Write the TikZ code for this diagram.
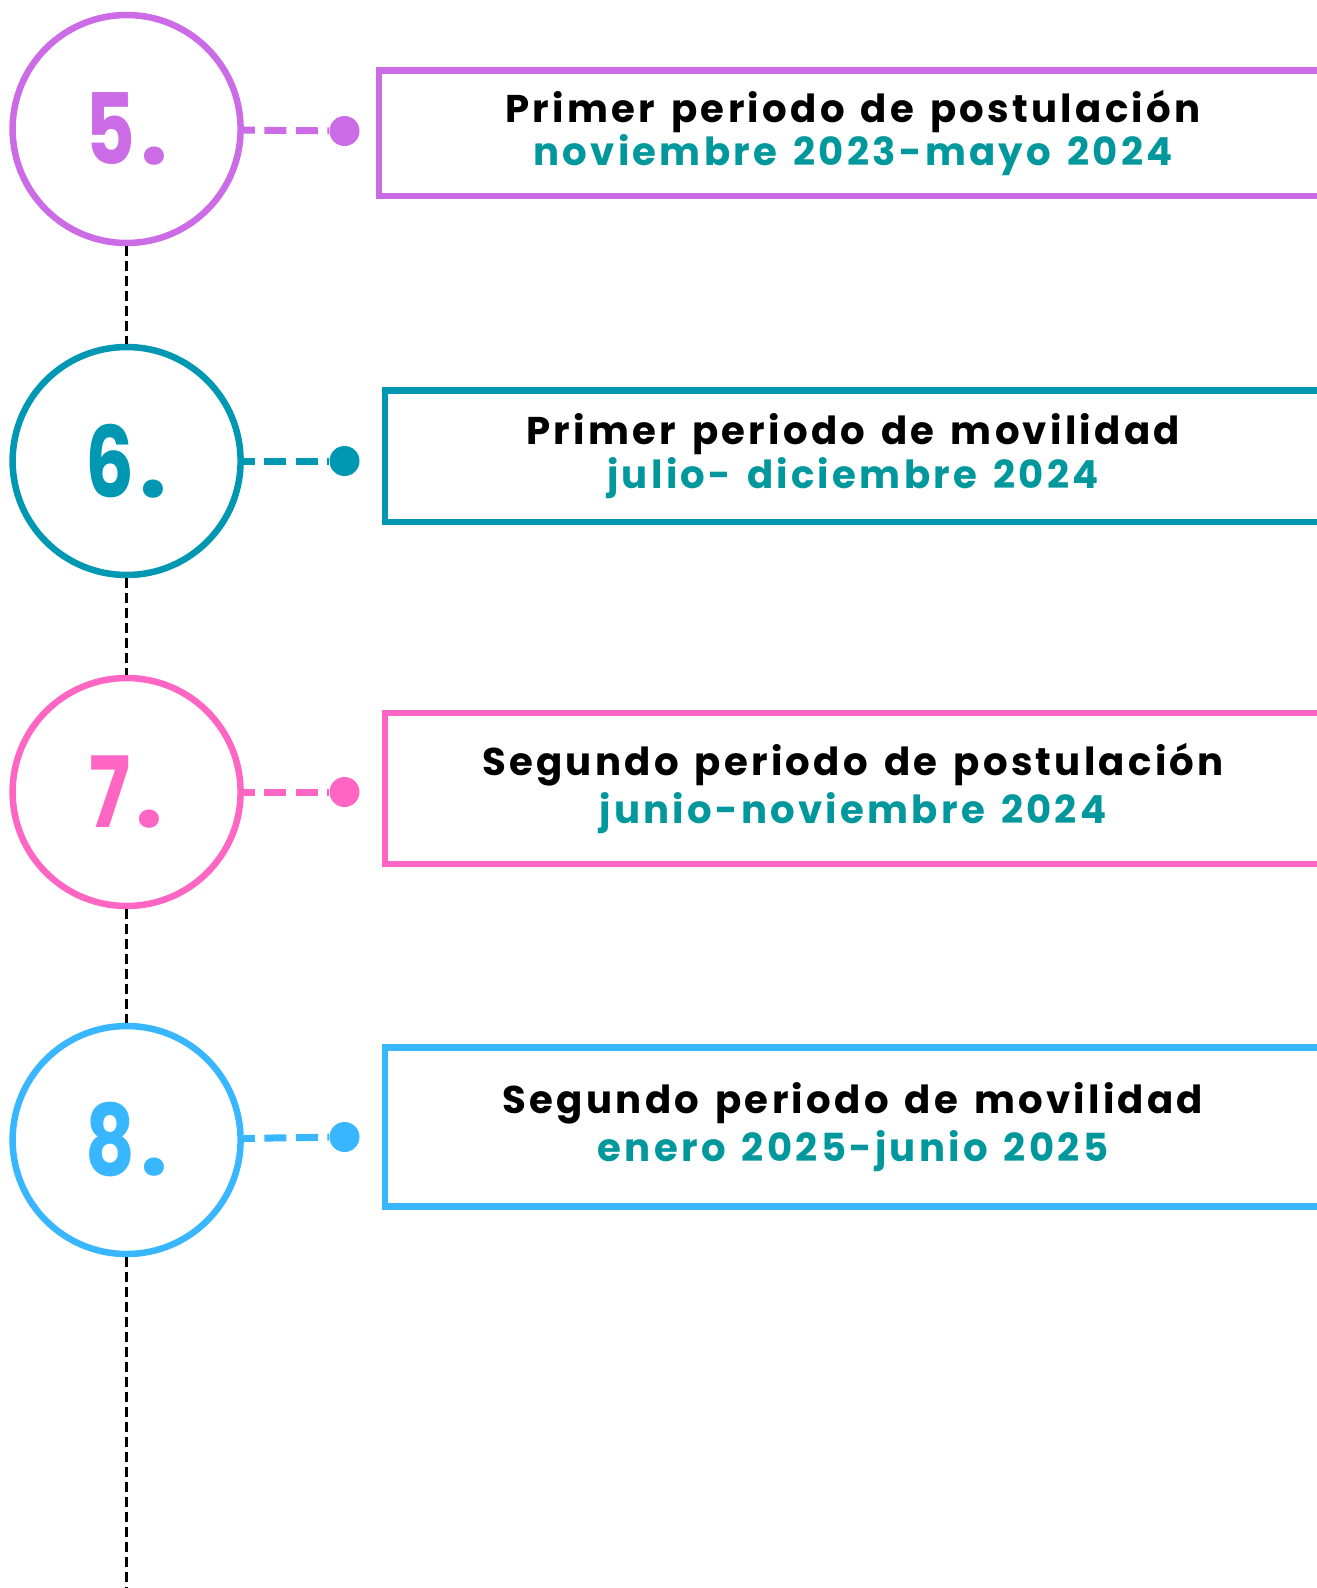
\documentclass[tikz,border=0pt]{standalone}
\usepackage{fontspec}
\usepackage{graphicx}
\newfontfamily\boxfont[LetterSpace=8.5, WordSpace=1.4]{Poppins}
\newfontfamily\numfont{Poppins}
\definecolor{lila}{RGB}{203,108,230}
\definecolor{petrol}{RGB}{0,151,178}
\definecolor{rosa}{RGB}{255,102,196}
\definecolor{cielo}{RGB}{56,182,255}
\definecolor{dateteal}{RGB}{0,151,157}
\newcommand{\stepnum}[1]{{\numfont\bfseries\fontsize{56}{56}\selectfont\scalebox{0.78}[1]{#1}\kern3pt.}}

\tikzset{
  numcircle/.style={circle, draw=#1, text=#1, line width=1.3mm, minimum size=45.6mm, inner sep=0pt},
  dotnode/.style={circle, fill=#1, minimum size=6mm, inner sep=0pt},
  link/.style={draw=#1, line width=1.4mm, dash pattern=on 4.4mm off 1.9mm, dash phase=2.2mm},
  datebox/.style={rectangle, draw=#1, line width=1.3mm, inner sep=0pt, align=center,
    font=\boxfont\bfseries\fontsize{22}{22.5}\selectfont},
  vline/.style={draw=black, line width=0.7mm, dash pattern=on 2mm off 1mm},
}

\begin{document}
\begin{tikzpicture}[x=0.2mm, y=-0.2mm]
\useasboundingbox (0,0) rectangle (1317,1588);
\clip (0,0) rectangle (1317,1588);
% numbered circles
\node[numcircle=lila]   (c5) at (126.6,129) {\stepnum{5}};
\node[numcircle=petrol] (c6) at (126.6,461) {\stepnum{6}};
\node[numcircle=rosa]   (c7) at (126.6,792) {\stepnum{7}};
\node[numcircle=cielo]  (c8) at (126.6,1140) {\stepnum{8}};
\coordinate (bot) at (126.6,1600);
% time line
\draw[vline] (c5) -- (c6);
\draw[vline] (c6) -- (c7);
\draw[vline] (c7) -- (c8);
\draw[vline] (c8) -- (bot);
% dots
\node[dotnode=lila]   (d5) at (344.5,131) {};
\node[dotnode=petrol] (d6) at (344.5,461) {};
\node[dotnode=rosa]   (d7) at (344.5,792) {};
\node[dotnode=cielo]  (d8) at (344.5,1137) {};
\draw[link=lila]   (c5) -- (d5);
\draw[link=petrol] (c6) -- (d6);
\draw[link=rosa]   (c7) -- (d7);
\draw[link=cielo]  (c8) -- (d8);
% boxes
\node[datebox=lila, minimum width=189.6mm, minimum height=25.1mm] (b5) at (853,133)
  {Primer periodo de postulación\\ \textcolor{dateteal}{noviembre 2023-mayo 2024}};
\node[datebox=petrol, minimum width=187.2mm, minimum height=26.3mm] (b6) at (853,456)
  {Primer periodo de movilidad\\[0.5pt] \textcolor{dateteal}{julio- diciembre 2024}};
\node[datebox=rosa, minimum width=187.2mm, minimum height=30.2mm] (b7) at (853,788.5)
  {Segundo periodo de postulación\\[2.5pt] \textcolor{dateteal}{junio-noviembre 2024}};
\node[datebox=cielo, minimum width=187.2mm, minimum height=31.8mm] (b8) at (853,1127)
  {Segundo periodo de movilidad\\[2.5pt] \textcolor{dateteal}{enero 2025-junio 2025}};
\end{tikzpicture}
\end{document}
